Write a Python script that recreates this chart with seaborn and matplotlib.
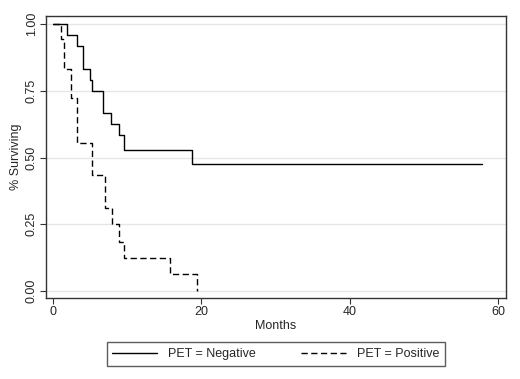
import matplotlib
matplotlib.use('Agg')
from matplotlib import pyplot as plt
from matplotlib.lines import Line2D
import pandas as pd
import seaborn as sns

# Kaplan-Meier steps
neg_months = [0, 1.84, 3.3, 4.0, 5.0, 5.26, 6.7, 7.86, 8.94, 9.57, 18.8, 57.8]
neg_surv = [1.0, 0.958, 0.917, 0.833, 0.792, 0.75, 0.667, 0.625, 0.583, 0.53, 0.475, 0.475]

pos_months = [0, 1.1, 1.5, 2.4, 3.3, 5.3, 7.0, 7.9, 8.9, 9.6, 15.8, 19.4]
pos_surv = [1.0, 0.944, 0.833, 0.722, 0.556, 0.435, 0.31, 0.25, 0.185, 0.125, 0.0625, 0.0]

groups = ['PET = Negative', 'PET = Positive']
x_ticks = [0, 20, 40, 60]
y_ticks = [0.0, 0.25, 0.5, 0.75, 1.0]

df = pd.concat([
    pd.DataFrame({'Months': neg_months, 'surv': neg_surv, 'group': groups[0]}),
    pd.DataFrame({'Months': pos_months, 'surv': pos_surv, 'group': groups[1]}),
])

sns.set_style('white')
plt.rcParams['font.family'] = ['Liberation Sans', 'DejaVu Sans']
plt.rcParams['font.size'] = 9

fig = plt.figure(figsize=(5.2, 3.79), dpi=100)
ax = fig.add_axes([46 / 520, 1 - 298 / 379, 460 / 520, 282 / 379])

for y in y_ticks:
    ax.axhline(y, color='#e6e6e6', lw=0.9, zorder=0)

dash = (0, (4.5, 2.5))
for g, ls in zip(groups, ['-', dash]):
    sub = df[df['group'] == g]
    sns.lineplot(data=sub, x='Months', y='surv', ax=ax, color='black', lw=1.0,
                 drawstyle='steps-post', estimator=None, sort=False, linestyle=ls,
                 legend=False)

ax.set_xlim(-0.94, 61.07)
ax.set_ylim(-0.026, 1.03)
ax.set_xticks(x_ticks)
ax.set_xticklabels([str(t) for t in x_ticks])
ax.set_yticks(y_ticks)
ax.set_yticklabels(['%.2f' % t for t in y_ticks], rotation=90, va='center')
ax.tick_params(direction='out', length=4, width=0.8, color='#333333', pad=2,
               left=True, bottom=True)
for s in ax.spines.values():
    s.set_color('#333333')
    s.set_linewidth(1.0)
ax.set_xlabel('Months', labelpad=1)
ax.set_ylabel('% Surviving', labelpad=3)

handles = [Line2D([], [], color='black', lw=1.0, ls='-'),
           Line2D([], [], color='black', lw=1.0, ls=dash)]
leg = fig.legend(handles, groups, loc='center', ncol=2,
                 bbox_to_anchor=(276 / 520, 1 - 354 / 379),
                 frameon=True, fancybox=False, handlelength=3.6,
                 columnspacing=3.6, borderpad=0.45, handletextpad=0.9,
                 borderaxespad=0)
leg.get_frame().set_edgecolor('#333333')
leg.get_frame().set_linewidth(1.0)

fig.savefig('out.png', dpi=100, facecolor='white')
